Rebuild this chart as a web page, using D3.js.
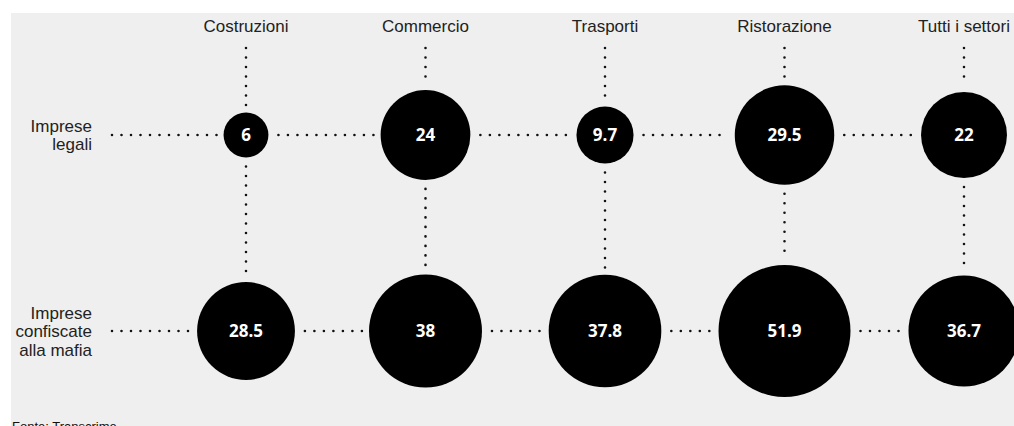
<!DOCTYPE html>
<html>
<head>
<meta charset="utf-8">
<script src="https://cdn.jsdelivr.net/npm/d3@7"></script>
<style>
  html, body { margin: 0; padding: 0; background: #fff; overflow: hidden; }
</style>
</head>
<body>
<svg id="chart"></svg>
<script>
// categories (columns) and rows
var sectors = ['Costruzioni', 'Commercio', 'Trasporti', 'Ristorazione', 'Tutti i settori'];
var rows = ['legali', 'confiscate'];
var rowLabels = [['Imprese', 'legali'], ['Imprese', 'confiscate', 'alla mafia']];

// values per row
var legali = [6, 24, 9.7, 29.5, 22];
var confiscate = [28.5, 38, 37.8, 51.9, 36.7];
var source = 'Fonte: Transcrime';

var width = 1014, height = 426;
var dotGap = 7;

var svg = d3.select('#chart')
    .attr('width', width)
    .attr('height', height);

// grey panel
svg.append('rect')
    .attr('x', 11)
    .attr('y', 13)
    .attr('width', width - 11)
    .attr('height', height - 13)
    .attr('fill', '#efefef');

// scales
var xScale = d3.scalePoint()
    .domain(sectors)
    .range([246, 964]);

var yScale = d3.scalePoint()
    .domain(rows)
    .range([135, 331]);

var rScale = d3.scaleSqrt()
    .domain([0, 51.9])
    .range([0, 66]);

// build one cell per value
var cells = [];
sectors.forEach(function (s, i) {
    cells.push({ sector: s, row: 'legali', value: legali[i] });
    cells.push({ sector: s, row: 'confiscate', value: confiscate[i] });
});

function dotted(sel) {
    return sel.attr('stroke', '#111')
        .attr('stroke-width', 2.6)
        .attr('stroke-linecap', 'round')
        .attr('stroke-dasharray', '0 9.5');
}

var lines = svg.append('g');

// horizontal dotted segments between circles
rows.forEach(function (row) {
    var rowCells = cells.filter(function (c) { return c.row === row; });
    var y = yScale(row);
    var prevX = 112;
    rowCells.forEach(function (c, i) {
        var x1 = xScale(c.sector) - rScale(c.value) - dotGap;
        lines.append('line')
            .attr('x1', prevX).attr('x2', x1)
            .attr('y1', y).attr('y2', y)
            .call(dotted);
        prevX = xScale(c.sector) + rScale(c.value) + dotGap + 3;
    });
});

// vertical dotted segments
sectors.forEach(function (s, i) {
    var x = xScale(s);
    var topEnd = yScale('legali') - rScale(legali[i]) - dotGap;
    lines.append('line')
        .attr('x1', x).attr('x2', x)
        .attr('y1', 48).attr('y2', topEnd)
        .call(dotted);
    lines.append('line')
        .attr('x1', x).attr('x2', x)
        .attr('y1', yScale('legali') + rScale(legali[i]) + dotGap + 2)
        .attr('y2', yScale('confiscate') - rScale(confiscate[i]) - dotGap + 2)
        .call(dotted);
});

// circles
var bubble = svg.selectAll('g.cell')
    .data(cells)
    .enter()
    .append('g')
    .attr('class', 'cell')
    .attr('transform', function (d) {
        return 'translate(' + xScale(d.sector) + ',' + yScale(d.row) + ')';
    });

bubble.append('circle')
    .attr('r', function (d) { return rScale(d.value); })
    .attr('fill', '#000');

bubble.append('text')
    .text(function (d) { return d.value; })
    .attr('text-anchor', 'middle')
    .attr('dy', '0.36em')
    .attr('fill', '#fff')
    .style('font-family', '"Open Sans", "DejaVu Sans", sans-serif')
    .style('font-weight', 'bold')
    .style('font-size', '17px');

// column headers
svg.selectAll('text.header')
    .data(sectors)
    .enter()
    .append('text')
    .attr('class', 'header')
    .attr('x', function (d) { return xScale(d); })
    .attr('y', 32)
    .attr('text-anchor', 'middle')
    .attr('fill', '#222')
    .style('font-family', '"Liberation Sans", Arial, sans-serif')
    .style('font-size', '17px')
    .text(function (d) { return d; });

// row labels
rows.forEach(function (row, i) {
    var lines = rowLabels[i];
    var t = svg.append('text')
        .attr('text-anchor', 'end')
        .attr('fill', '#222')
        .style('font-family', '"Liberation Sans", Arial, sans-serif')
        .style('font-size', '17px');
    lines.forEach(function (l, j) {
        t.append('tspan')
            .attr('x', 92)
            .attr('y', yScale(row) + (j - (lines.length - 1) / 2) * 18.5 + 6)
            .text(l);
    });
});

// source
svg.append('text')
    .attr('x', 12)
    .attr('y', 431)
    .attr('fill', '#111')
    .style('font-family', '"Liberation Sans", Arial, sans-serif')
    .style('font-size', '13px')
    .text(source);
</script>
</body>
</html>
